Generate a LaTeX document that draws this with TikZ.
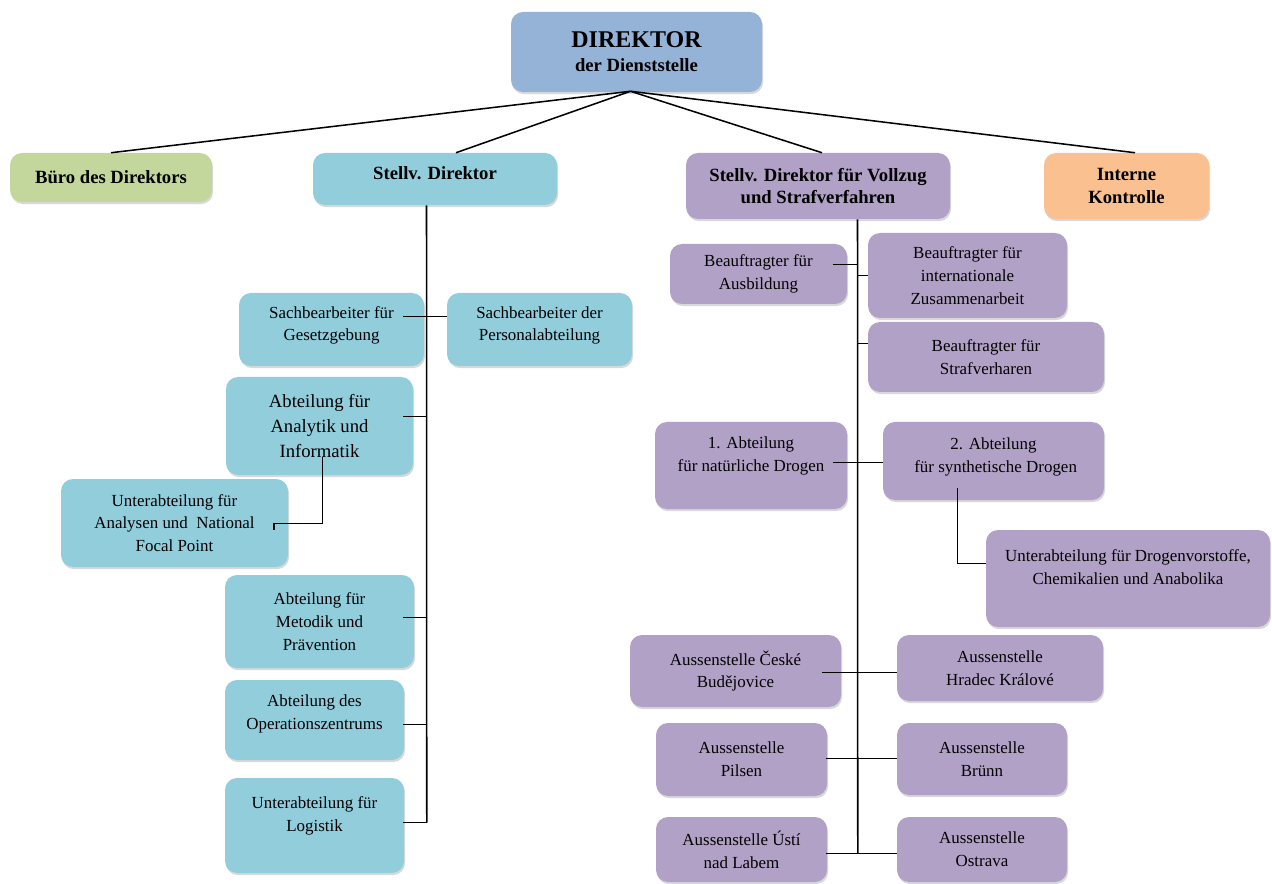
\documentclass[tikz,border=0pt]{standalone}
\usepackage{fontspec}
\setmainfont{Liberation Serif}
\usepackage{tikz}
\usetikzlibrary{positioning,calc,shadows}

\definecolor{dirblue}{HTML}{95B3D7}
\definecolor{buegreen}{HTML}{C3D69B}
\definecolor{tealbox}{HTML}{92CDDC}
\definecolor{lilac}{HTML}{B2A1C7}
\definecolor{peach}{HTML}{FAC090}

\begin{document}
\begin{tikzpicture}[
  x=0.75pt, y=-0.75pt,
  every node/.style={font=\fontsize{12.7}{17}\selectfont},
  box/.style={rounded corners=9pt, inner sep=0pt, align=center,
    drop shadow={shadow xshift=0.8pt, shadow yshift=-1.6pt, fill=black!30}},
  sz/.style 2 args={minimum width=#1*0.75pt, minimum height=#2*0.75pt},
  head/.style={box, font=\fontsize{14}{17}\selectfont\bfseries},
  lb/.style={box, fill=tealbox},
  pb/.style={box, fill=lilac},
  conn/.style={draw, line width=1.15pt},
]
\useasboundingbox (0,0) rectangle (1272,884);

% Top level
\node[head, fill=dirblue, sz={251}{80}] (dir) at (636.5,52)
  {{\fontsize{18}{22}\selectfont DIREKTOR}\\[1pt] der Dienststelle};
\node[head, fill=buegreen, sz={202}{49}] (buero) at (111,177.5) {Büro des Direktors};
\node[head, fill=tealbox, sz={244}{52}] (stv) at (435,179) {Stellv. Direktor\\[-8pt]\mbox{}};
\node[head, fill=lilac, sz={264}{66}] (vol) at (818,186) {Stellv. Direktor für Vollzug\\und Strafverfahren};
\node[head, fill=peach, sz={165}{66}] (ik) at (1126.5,186) {Interne\\Kontrolle};
\coordinate (apex) at ($(dir.south)+(-6,-1)$);
\draw[conn] (apex) -- (buero.north);
\draw[conn] (apex) -- ($(stv.north)+(21,0)$);
\draw[conn] (apex) -- ($(vol.north)+(4,0)$);
\draw[conn] (apex) -- ($(ik.north)+(8.5,0)$);

% Stellv. Direktor branch
\node[lb, sz={185}{73}] (geset) at (331.5,329.5) {Sachbearbeiter für\\Gesetzgebung\\[-8pt]\mbox{}};
\node[lb, sz={185}{73}] (pers) at (539.5,329.5) {Sachbearbeiter der\\Personalabteilung\\[-8pt]\mbox{}};
\node[lb, sz={187}{98}, font=\fontsize{14}{18.5}\selectfont] (analyt) at (319.5,426) {Abteilung für\\Analytik und\\Informatik};
\node[lb, sz={227}{88}] (unt) at (174.5,523) {Unterabteilung für\\Analysen und~ National\\Focal Point};
\node[lb, sz={189}{93}] (met) at (319.5,621.5) {Abteilung für\\Metodik und\\Prävention};
\node[lb, sz={179}{80}] (ops) at (314.5,720) {Abteilung des\\Operationszentrums\\[-5pt]\mbox{}};
\node[lb, sz={179}{95}] (log) at (314.5,825.5) {Unterabteilung für\\Logistik\\\mbox{}};
\draw[conn] ($(stv.south)+(-8.5,0)$) -- ($(log.east)+(22.5,-3)$);
\draw[conn] ($(geset.east)+(-21,-13)$) -- ($(pers.west)+(0,-13)$);
\draw[conn] ($(analyt.east)+(-10,-9.5)$) -- ($(analyt.east)+(13.5,-9.5)$);
\draw[conn] ($(analyt.south)+(3,-18)$) |- ($(unt.east)+(-14.5,0.5)$) -- ($(unt.east)+(-14.5,7)$);
\draw[conn] ($(met.east)+(-11,-4)$) -- ($(met.east)+(12.5,-4)$);
\draw[conn] ($(ops.east)+(-1,4.5)$) -- ($(ops.east)+(22.5,4.5)$);
\draw[conn] ($(log.east)+(-1,-3)$) -- ($(log.east)+(22.5,-3)$);

% Vollzug branch
\node[pb, sz={177}{60}] (ausb) at (758.5,274) {Beauftragter für\\Ausbildung};
\node[pb, sz={199}{85}] (intl) at (967.5,275.5) {Beauftragter für\\internationale\\Zusammenarbeit};
\node[pb, sz={236}{70}] (straf) at (986,357) {Beauftragter für\\Strafverharen};
\node[pb, sz={192}{87}] (abt1) at (751,465.5) {1. Abteilung\\für natürliche Drogen\\\mbox{}};
\node[pb, sz={221}{78}] (abt2) at (993.5,461) {2. Abteilung\\~für synthetische Drogen\\[-8pt]\mbox{}};
\node[pb, sz={284}{97}] (drog) at (1128,578.5) {Unterabteilung für Drogenvorstoffe,\\Chemikalien und Anabolika\\\mbox{}};
\node[pb, sz={211}{72}] (cb) at (735.5,671) {Aussenstelle České\\Budějovice};
\node[pb, sz={206}{66}] (hk) at (1000,668) {Aussenstelle\\Hradec Králové};
\node[pb, sz={171}{73}] (pil) at (741.5,759.5) {Aussenstelle\\Pilsen};
\node[pb, sz={170}{72}] (brn) at (982,759) {Aussenstelle\\Brünn};
\node[pb, sz={171}{65}] (ust) at (741.5,849.5) {Aussenstelle Ústí\\nad Labem};
\node[pb, sz={170}{65}] (ost) at (982,849.5) {Aussenstelle\\Ostrava};
\draw[conn] ($(vol.south)+(39.5,0)$) -- ($(ust.east)+(30.5,4)$);
\draw[conn] ($(ausb.east)+(-14,-9.5)$) -- ($(ausb.east)+(10.5,-9.5)$);
\draw[conn] ($(intl.west)+(-10.5,0)$) -- (intl.west);
\draw[conn] ($(straf.west)+(-10.5,-13.5)$) -- ($(straf.west)+(0,-13.5)$);
\draw[conn] ($(abt1.east)+(-14,-3)$) -- ($(abt2.west)+(0,1.5)$);
\draw[conn] ($(abt2.south)+(-36,-12)$) |- ($(drog.west)+(0,-15)$);
\draw[conn] ($(cb.east)+(-19,1.5)$) -- ($(hk.west)+(0,4.5)$);
\draw[conn] ($(pil.east)+(-1,-1)$) -- ($(brn.west)+(0,-0.5)$);
\draw[conn] ($(ust.east)+(-1,4)$) -- ($(ost.west)+(0,4)$);

\end{tikzpicture}
\end{document}
